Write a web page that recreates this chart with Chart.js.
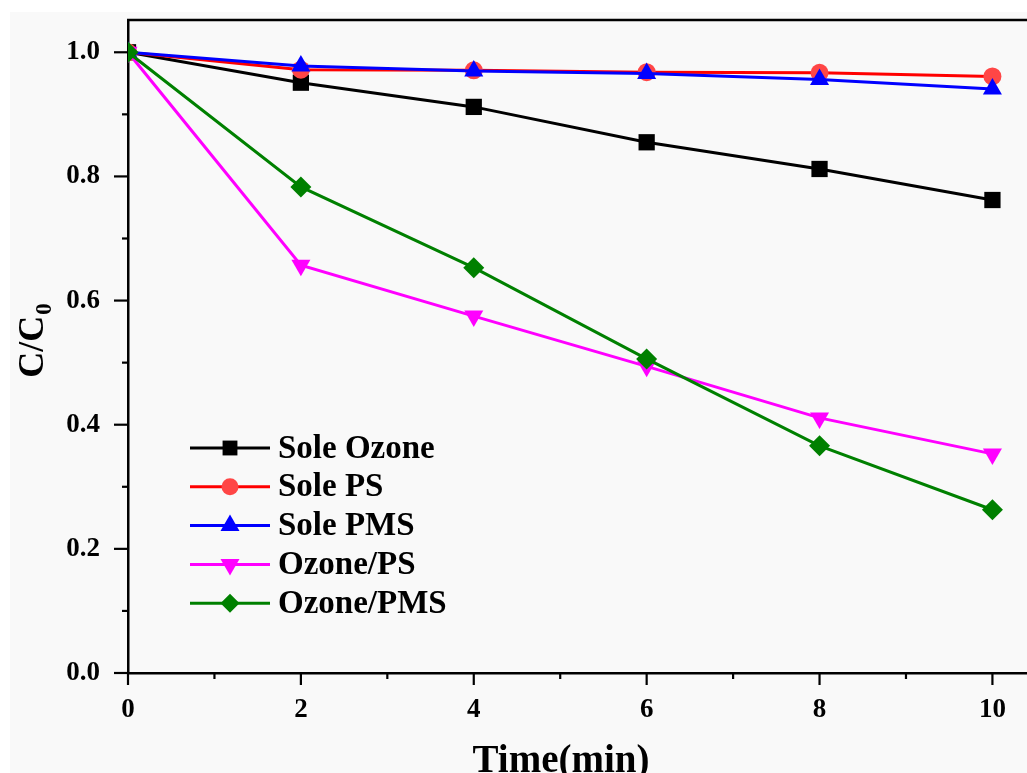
<!DOCTYPE html>
<html>
<head>
<meta charset="utf-8">
<script src="https://cdn.jsdelivr.net/npm/chart.js@4/dist/chart.umd.min.js"></script>
<style>
  html, body { margin: 0; padding: 0; background: #fff; }
  #wrap { width: 1027px; height: 773px; position: relative; }
</style>
</head>
<body>
<div id="wrap"><canvas id="chart"></canvas></div>
<script>
// values
const timeMin = [0, 2, 4, 6, 8, 10];
const soleOzone = [1.0, 0.951, 0.912, 0.855, 0.812, 0.762];
const solePS = [1.0, 0.972, 0.971, 0.968, 0.967, 0.961];
const solePMS = [1.0, 0.978, 0.970, 0.966, 0.956, 0.941];
const ozonePS = [1.0, 0.657, 0.575, 0.494, 0.411, 0.353];
const ozonePMS = [1.0, 0.783, 0.653, 0.506, 0.366, 0.263];

const seriesNames = ['Sole Ozone', 'Sole PS', 'Sole PMS', 'Ozone/PS', 'Ozone/PMS'];
const xTicks = [0, 2, 4, 6, 8, 10];
const yTicks = [0.0, 0.2, 0.4, 0.6, 0.8, 1.0];
const xMinorTicks = [1, 3, 5, 7, 9];
const yMinorTicks = [0.1, 0.3, 0.5, 0.7, 0.9];

const SERIF = '"Liberation Serif", "Times New Roman", serif';

const styles = [
  { line: '#000000', fill: '#000000', pointStyle: 'rect', radius: 11.5, legendRadius: 10.5, rotation: 0 },
  { line: '#ff0000', fill: '#ff4646', pointStyle: 'circle', radius: 9, legendRadius: 8.5, rotation: 0 },
  { line: '#0000ff', fill: '#0000ff', pointStyle: 'triangle', radius: 11, legendRadius: 11, rotation: 0 },
  { line: '#ff00ff', fill: '#ff00ff', pointStyle: 'triangle', radius: 11, legendRadius: 11, rotation: 180 },
  { line: '#008000', fill: '#008000', pointStyle: 'rectRot', radius: 10.5, legendRadius: 9.5, rotation: 0 },
];

function toPoints(values) {
  return timeMin.map((t, i) => ({ x: t, y: values[i] }));
}

const allSeries = [soleOzone, solePS, solePMS, ozonePS, ozonePMS];

const datasets = allSeries.map((vals, i) => ({
  label: seriesNames[i],
  data: toPoints(vals),
  borderColor: styles[i].line,
  backgroundColor: styles[i].fill,
  borderWidth: 3,
  pointStyle: styles[i].pointStyle,
  pointRadius: styles[i].radius,
  pointRotation: styles[i].rotation,
  pointBorderWidth: 0,
  pointBackgroundColor: styles[i].fill,
  tension: 0,
  order: 5 - i, // later series on top
}));

function noPadding(s) {
  s.paddingTop = 0;
  s.paddingBottom = 0;
  s.paddingLeft = 0;
  s.paddingRight = 0;
}

// panel background, top spine, ticks, titles, legend
const decorPlugin = {
  id: 'decor',
  beforeDraw(chart) {
    const { ctx, width, height } = chart;
    ctx.save();
    ctx.fillStyle = '#ffffff';
    ctx.fillRect(0, 0, width, height);
    ctx.fillStyle = '#f9f9f9';
    ctx.fillRect(10, 12, width - 10, height - 12);
    ctx.restore();
  },
  afterDraw(chart) {
    const { ctx, chartArea } = chart;
    const xs = chart.scales.x, ys = chart.scales.y;
    ctx.save();
    ctx.strokeStyle = '#000';
    ctx.lineWidth = 2.5;

    // top spine
    ctx.beginPath();
    ctx.moveTo(chartArea.left - 1, chartArea.top);
    ctx.lineTo(chartArea.right, chartArea.top);
    ctx.stroke();

    // ticks
    ctx.lineWidth = 2.2;
    const tick = (x1, y1, x2, y2) => { ctx.beginPath(); ctx.moveTo(x1, y1); ctx.lineTo(x2, y2); ctx.stroke(); };
    xTicks.forEach(v => { const p = xs.getPixelForValue(v); tick(p, chartArea.bottom, p, chartArea.bottom + 12); });
    xMinorTicks.forEach(v => { const p = xs.getPixelForValue(v); tick(p, chartArea.bottom, p, chartArea.bottom + 6); });
    yTicks.forEach(v => { const p = ys.getPixelForValue(v); tick(chartArea.left, p, chartArea.left - 14, p); });
    yMinorTicks.forEach(v => { const p = ys.getPixelForValue(v); tick(chartArea.left, p, chartArea.left - 6, p); });

    // axis titles
    ctx.fillStyle = '#000';
    ctx.font = 'bold 39px ' + SERIF;
    ctx.textAlign = 'center';
    ctx.textBaseline = 'alphabetic';
    ctx.fillText('Time(min)', 561, 772);

    ctx.save();
    ctx.translate(43, 341);
    ctx.rotate(-Math.PI / 2);
    ctx.textAlign = 'left';
    ctx.font = 'bold 36px ' + SERIF;
    const main = 'C/C';
    const wMain = ctx.measureText(main).width;
    ctx.font = 'bold 23px ' + SERIF;
    const wSub = ctx.measureText('0').width;
    const start = -(wMain + wSub) / 2;
    ctx.font = 'bold 36px ' + SERIF;
    ctx.fillText(main, start, 0);
    ctx.font = 'bold 23px ' + SERIF;
    ctx.fillText('0', start + wMain + 1, 8);
    ctx.restore();

    // legend
    const lx = 190, ly = 448, gap = 38.8;
    seriesNames.forEach((name, i) => {
      const y = ly + i * gap;
      const s = styles[i];
      ctx.strokeStyle = s.line;
      ctx.lineWidth = 3;
      tick(lx, y, lx + 80, y);
      ctx.fillStyle = s.fill;
      Chart.helpers.drawPoint(ctx, {
        pointStyle: s.pointStyle, radius: s.legendRadius, rotation: s.rotation, borderWidth: 0,
      }, lx + 40, y);
      ctx.fillStyle = '#000';
      ctx.font = 'bold 33px ' + SERIF;
      ctx.textAlign = 'left';
      ctx.textBaseline = 'middle';
      ctx.fillText(name, lx + 88, y + 1);
    });
    ctx.restore();
  },
};

new Chart(document.getElementById('chart'), {
  type: 'line',
  data: { datasets },
  options: {
    responsive: true,
    maintainAspectRatio: false,
    animation: false,
    layout: { autoPadding: false, padding: { top: 20, right: 0, bottom: 0, left: 0 } },
    plugins: { legend: { display: false }, tooltip: { enabled: false } },
    scales: {
      x: {
        type: 'linear',
        min: 0,
        max: 10.4,
        afterFit: (s) => { s.height = 100; noPadding(s); },
        afterBuildTicks: (s) => { s.ticks = xTicks.map(v => ({ value: v })); },
        grid: { display: true, drawOnChartArea: false, drawTicks: false },
        border: { display: true, color: '#000', width: 2.5 },
        ticks: {
          color: '#000',
          padding: 21,
          maxRotation: 0,
          font: { family: SERIF, size: 27, weight: 'bold' },
          callback: (v) => String(v),
        },
      },
      y: {
        type: 'linear',
        min: 0,
        max: 1.052,
        afterFit: (s) => { s.width = 128; noPadding(s); },
        afterBuildTicks: (s) => { s.ticks = yTicks.map(v => ({ value: v })); },
        grid: { display: true, drawOnChartArea: false, drawTicks: false },
        border: { display: true, color: '#000', width: 2.5 },
        ticks: {
          color: '#000',
          padding: 28,
          font: { family: SERIF, size: 27, weight: 'bold' },
          callback: (v) => Number(v).toFixed(1),
        },
      },
    },
  },
  plugins: [decorPlugin],
});
</script>
</body>
</html>
